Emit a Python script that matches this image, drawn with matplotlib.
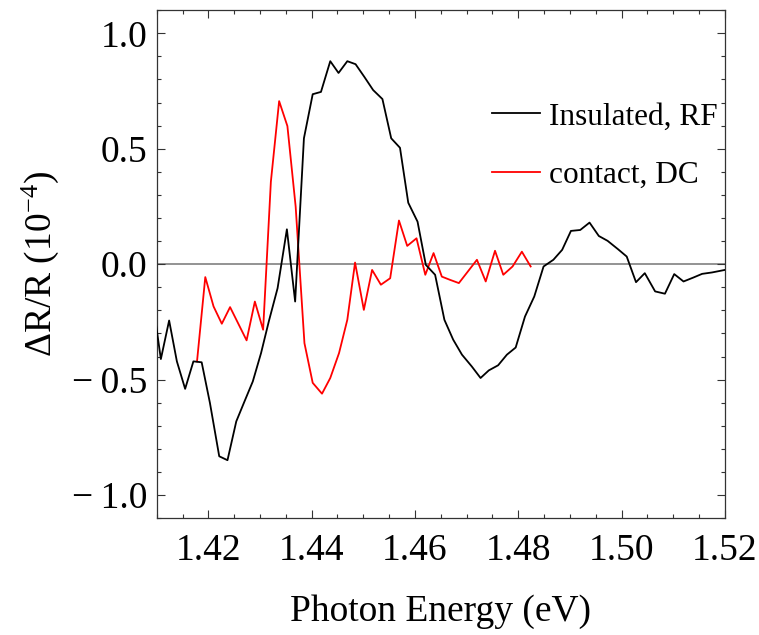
import matplotlib
matplotlib.use("Agg")
import matplotlib.pyplot as plt
from matplotlib.ticker import MultipleLocator, FuncFormatter

# photon energy (eV) and reflectance change (1e-4) for the two samples
energy_rf = [1.4095, 1.4108, 1.4124, 1.4139, 1.4155, 1.4171, 1.4187, 1.4203,
             1.4221, 1.4237, 1.4254, 1.4270, 1.4286, 1.4302, 1.4317, 1.4334,
             1.4352, 1.4368, 1.4385, 1.4402, 1.4418, 1.4436, 1.4452, 1.4469,
             1.4485, 1.4502, 1.4519, 1.4537, 1.4554, 1.4571, 1.4587, 1.4605,
             1.4621, 1.4639, 1.4657, 1.4674, 1.4691, 1.4710, 1.4727, 1.4743,
             1.4761, 1.4778, 1.4795, 1.4813, 1.4831, 1.4849, 1.4868, 1.4885,
             1.4902, 1.4920, 1.4938, 1.4956, 1.4973, 1.4993, 1.5010, 1.5028,
             1.5045, 1.5065, 1.5084, 1.5102, 1.5120, 1.5139, 1.5156, 1.5175,
             1.5200]
signal_rf = [-0.205, -0.411, -0.244, -0.421, -0.540, -0.421, -0.425, -0.601,
             -0.832, -0.849, -0.681, -0.594, -0.508, -0.385, -0.248, -0.104,
             0.151, -0.162, 0.545, 0.736, 0.746, 0.879, 0.828, 0.879,
             0.866, 0.811, 0.754, 0.715, 0.545, 0.504, 0.266, 0.184,
             -0.003, -0.046, -0.241, -0.327, -0.392, -0.443, -0.493, -0.460,
             -0.438, -0.392, -0.361, -0.227, -0.140, -0.010, 0.019, 0.062,
             0.144, 0.148, 0.180, 0.122, 0.101, 0.065, 0.033, -0.078,
             -0.039, -0.118, -0.128, -0.043, -0.075, -0.058, -0.042, -0.036,
             -0.025]

energy_dc = [1.4178, 1.4194, 1.4210, 1.4226, 1.4242, 1.4258, 1.4274, 1.4290,
             1.4306, 1.4321, 1.4337, 1.4353, 1.4369, 1.4386, 1.4402, 1.4420,
             1.4436, 1.4453, 1.4469, 1.4484, 1.4501, 1.4517, 1.4534, 1.4552,
             1.4569, 1.4585, 1.4603, 1.4620, 1.4636, 1.4652, 1.4668, 1.4685,
             1.4702, 1.4720, 1.4737, 1.4755, 1.4771, 1.4789, 1.4807, 1.4824]
signal_dc = [-0.421, -0.056, -0.183, -0.258, -0.186, -0.258, -0.330, -0.162,
             -0.284, 0.357, 0.706, 0.598, 0.249, -0.342, -0.514, -0.561,
             -0.493, -0.385, -0.241, 0.007, -0.198, -0.025, -0.089, -0.061,
             0.189, 0.079, 0.112, -0.046, 0.048, -0.054, -0.068, -0.082,
             -0.033, 0.019, -0.075, 0.058, -0.046, -0.010, 0.054, -0.010]

plt.rcParams["font.family"] = "Liberation Serif"
plt.rcParams["mathtext.fontset"] = "custom"
plt.rcParams["mathtext.rm"] = "Liberation Serif"
plt.rcParams["mathtext.it"] = "Liberation Serif:italic"
plt.rcParams["mathtext.default"] = "regular"

fig = plt.figure(figsize=(7.59, 6.35), dpi=100)
ax = fig.add_axes([0.2065, 0.184, 0.7485, 0.8])

ax.axhline(0, color="#808080", lw=1.2, zorder=1)
ax.plot(energy_rf, signal_rf, color="black", lw=1.3, label="Insulated, RF", zorder=3)
ax.plot(energy_dc, signal_dc, color="red", lw=1.3, label="contact, DC", zorder=2)

ax.set_xlim(1.41, 1.52)
ax.set_ylim(-1.1, 1.1)

ax.xaxis.set_major_locator(MultipleLocator(0.02))
ax.xaxis.set_minor_locator(MultipleLocator(0.005))
ax.yaxis.set_major_locator(MultipleLocator(0.5))
ax.yaxis.set_minor_locator(MultipleLocator(0.1))
ax.yaxis.set_major_formatter(FuncFormatter(
    lambda v, p: ("\u2212\u2009%.1f" % abs(v)) if v < -1e-9 else "%.1f" % abs(v)))

ax.tick_params(which="both", direction="in", top=True, right=True,
               width=0.8, color="#333333", labelsize=27, pad=7)
ax.tick_params(axis="x", which="major", pad=11)
ax.tick_params(which="major", length=6)
ax.tick_params(which="minor", length=3)
for s in ax.spines.values():
    s.set_linewidth(0.9)
    s.set_color("#333333")

ax.set_xlabel("Photon Energy (eV)", fontsize=27, labelpad=19)
ax.set_ylabel("\u0394R/R (10$^{\u22124}$)", fontsize=27, labelpad=8)

ax.legend(loc="upper left", bbox_to_anchor=(0.568, 0.843), frameon=False,
          fontsize=22.5, handlelength=1.54, handletextpad=0.29,
          labelspacing=0.95, borderaxespad=0)

fig.savefig("out.png", dpi=100)
